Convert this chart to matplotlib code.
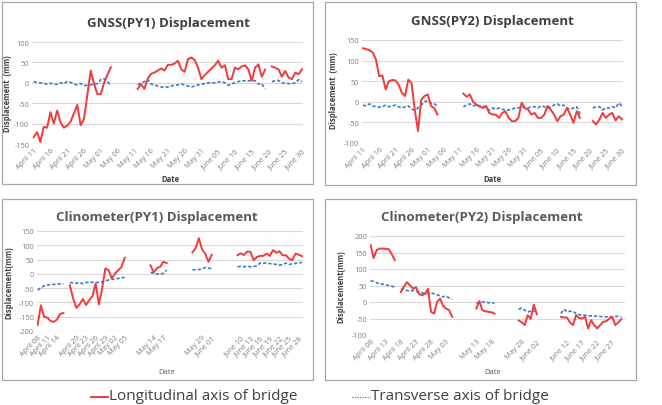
import numpy as np
import matplotlib
matplotlib.use("Agg")
import matplotlib.pyplot as plt
from matplotlib.patches import Rectangle
from matplotlib.lines import Line2D

plt.rcParams['font.family'] = ['Open Sans', 'DejaVu Sans']
plt.rcParams['axes.unicode_minus'] = False

W, H = 662, 406

# ---------------- GNSS PY1 (day 0 = April 11) ----------------
gnss_ticks = ["April 11", "April 16", "April 21", "April 26", "May 01", "May 06",
              "May 11", "May 16", "May 21", "May 26", "May 31", "June 05",
              "June 10", "June 15", "June 20", "June 25", "June 30"]
gnss_tick_days = list(range(0, 81, 5))

g1_starts = [0, 31, 71]
g1_long_1 = [-133, -121, -145, -108, -110, -72, -100, -68, -97, -110, -105, -95,
             -75, -54, -104, -88, -30, 30, -3, -28, -28, 0, 20, 38]
g1_tran_1 = [3, 1, 0, -2, -3, -1, -3, -4, 0, -2, 3, 1, -3, -5, -2, -7, -6, -5,
             -3, -2, 8, 10, 3, -7]
g1_long_2 = [-15, -3, -15, 10, 22, 25, 30, 35, 30, 44, 44, 47, 54, 33, 27, 58,
             62, 56, 37, 9, 19, 27, 35, 43, 54, 37, 43, 9, 9, 37, 33, 40, 43,
             33, 5, 37, 45, 15, 32]
g1_tran_2 = [-5, 0, 3, 8, -3, -5, -8, -10, -12, -10, -8, -6, -5, -3, -5, -8,
             -10, -8, -5, -3, -2, 0, 0, 0, 2, 3, 0, -6, -3, 0, 3, 5, 5, 5, 6, 5,
             -3, -2, -15]
g1_long_3 = [40, 37, 33, 15, 29, 13, 9, 25, 21, 33]
g1_tran_3 = [3, 5, 6, 0, -1, -2, -2, 0, 8, 3]

# ---------------- GNSS PY2 (day 0 = April 11) ----------------
g2_starts = [0, 31, 71]
g2_long_1 = [130, 128, 125, 120, 103, 62, 64, 30, 50, 53, 52, 42, 22, 14, 54,
             45, -19, -71, 5, 14, 18, -10, -15, -31]
g2_tran_1 = [-8, -10, -5, -10, -12, -13, -12, -8, -12, -10, -8, -12, -15, -12,
             -10, -18, -20, -15, -8, 0, 3, -3, -5, -10]
g2_long_2 = [20, 12, 18, 0, -7, -10, -15, -10, -27, -31, -31, -39, -27, -23,
             -39, -47, -47, -39, -2, -15, -19, -31, -27, -39, -39, -31, -10,
             -19, -31, -47, -35, -31, -15, -31, -51, -23, -39]
g2_tran_2 = [-12, -8, -5, -10, -8, -12, -10, -15, -20, -15, -18, -15, -18, -20,
             -20, -18, -15, -15, -12, -15, -15, -12, -12, -15, -10, -12, -15,
             -12, -8, -5, -10, -8, -15, -18, -15, -12, -30]
g2_long_3 = [-47, -55, -43, -27, -39, -31, -27, -45, -35, -43]
g2_tran_3 = [-15, -12, -12, -20, -15, -15, -12, -15, -3, -10]

# ---------------- Clinometer PY1 (day 0 = April 08) ----------------
c1_ticks = ["April 08", "April 11", "April 14", "April 20", "April 23",
            "April 26", "April 29", "May 02", "May 05", "May 14", "May 17",
            "May 29", "June 01", "June 10", "June 13", "June 16", "June 19",
            "June 22", "June 25", "June 28"]
c1_tick_days = [0, 3, 6, 12, 15, 18, 21, 24, 27, 36, 39, 51, 54, 63, 66, 69,
                72, 75, 78, 81]
c1_starts = [0, 10, 35, 48, 62]
c1_long_1 = [-179, -110, -150, -153, -165, -168, -160, -140, -137]
c1_tran_1 = [-57, -49, -42, -40, -37, -37, -35, -35, -35]
c1_long_2 = [-40, -86, -119, -107, -88, -109, -92, -78, -34, -107, -51, 19, 13,
             -16, 1, 13, 24, 56]
c1_tran_2 = [-30, -32, -33, -30, -35, -31, -28, -30, -30, -30, -28, -26, -21,
             -19, -19, -16, -14, -12]
c1_long_3 = [30, 5, 20, 25, 42, 38]
c1_tran_3 = [5, 2, 0, -2, 2, 13]
c1_long_4 = [75, 90, 125, 85, 70, 42, 67]
c1_tran_4 = [15, 14, 15, 18, 22, 20, 18]
c1_long_5 = [65, 72, 66, 78, 77, 48, 59, 63, 63, 71, 63, 83, 74, 79, 65, 65,
             53, 48, 71, 67, 62]
c1_tran_5 = [25, 26, 25, 26, 25, 26, 28, 38, 37, 38, 36, 35, 33, 31, 32, 38,
             33, 35, 37, 38, 40]

# ---------------- Clinometer PY2 (day 0 = April 08) ----------------
c2_ticks = ["April 08", "April 13", "April 18", "April 23", "April 28",
            "May 03", "May 13", "May 18", "May 28", "June 02", "June 12",
            "June 17", "June 22", "June 27"]
c2_tick_days = [0, 5, 10, 15, 20, 25, 35, 40, 50, 55, 65, 70, 75, 80]
c2_starts = [0, 10, 35, 49, 63]
c2_long_1 = [172, 133, 157, 162, 162, 161, 160, 145, 127]
c2_tran_1 = [65, 62, 58, 56, 54, 52, 50, 48, 45]
c2_long_2 = [30, 46, 60, 51, 40, 45, 25, 20, 25, 40, -30, -35, 0, 10, -12,
             -20, -25, -45]
c2_tran_2 = [38, 40, 35, 33, 35, 32, 28, 28, 26, 26, 28, 25, 22, 18, 16, 18,
             12, 10]
c2_long_3 = [-20, 3, -25, -28, -30, -31, -35]
c2_tran_3 = [-3, -2, 0, 0, -2, -3, -3]
c2_long_4 = [-56, -61, -70, -40, -51, -8, -37]
c2_tran_4 = [-22, -18, -25, -30, -28, -28, -25]
c2_long_5 = [-45, -47, -47, -62, -70, -40, -48, -50, -45, -80, -55, -70, -80,
             -70, -60, -58, -50, -45, -70, -62, -52]
c2_tran_5 = [-35, -22, -30, -28, -28, -35, -38, -40, -40, -42, -42, -43, -43,
             -44, -45, -45, -44, -45, -44, -43, -45]

RED = '#f23a3a'
BLUE = '#3a7cc4'
GRID = '#d9d9d9'
TICKC = '#7f7f7f'

fig = plt.figure(figsize=(W / 100, H / 100), dpi=100)


def px_axes(x0, y0, x1, y1):
    return fig.add_axes([x0 / W, 1 - y1 / H, (x1 - x0) / W, (y1 - y0) / H])


def box(x0, y0, x1, y1):
    fig.patches.append(Rectangle((x0 / W, 1 - y1 / H), (x1 - x0) / W, (y1 - y0) / H,
                                 transform=fig.transFigure, fill=False,
                                 ec='#a6a6a6', lw=0.9))


def ftext(x, y, s, **kw):
    fig.text(x / W, 1 - y / H, s, **kw)


def panel(rect, starts, longs, trans, ylim, yticks, xlim, tdays, tlabels):
    ax = px_axes(*rect)
    for s, lv, tv in zip(starts, longs, trans):
        xd = s + np.arange(len(lv))
        ax.plot(xd, tv, color=BLUE, lw=1.2, dashes=(2.0, 1.2))
        ax.plot(xd, lv, color=RED, lw=1.4)
    ax.set_ylim(*ylim)
    ax.set_yticks(yticks)
    ax.set_xlim(*xlim)
    ax.set_xticks(tdays)
    ax.set_xticklabels(tlabels, rotation=45, ha='right', rotation_mode='anchor')
    ax.grid(axis='y', color=GRID, lw=0.8)
    ax.set_axisbelow(True)
    for sp in ax.spines.values():
        sp.set_visible(False)
    ax.tick_params(length=0, labelsize=5.3, colors=TICKC, pad=2)
    ax.tick_params(axis='x', pad=2)
    return ax


# boxes
box(2, 3, 313, 185)
box(325, 3, 636, 186)
box(2, 200, 313, 381)
box(325, 200, 636, 381)

panel((32, 43, 303, 145), g1_starts, [g1_long_1, g1_long_2, g1_long_3],
      [g1_tran_1, g1_tran_2, g1_tran_3], (-150, 100), range(-150, 101, 50),
      (-0.5, 80.3), gnss_tick_days, gnss_ticks)
panel((362, 41, 623, 144), g2_starts, [g2_long_1, g2_long_2, g2_long_3],
      [g2_tran_1, g2_tran_2, g2_tran_3], (-100, 150), range(-100, 151, 50),
      (-0.3, 80.3), gnss_tick_days, gnss_ticks)
panel((37, 232, 303, 332), c1_starts,
      [c1_long_1, c1_long_2, c1_long_3, c1_long_4, c1_long_5],
      [c1_tran_1, c1_tran_2, c1_tran_3, c1_tran_4, c1_tran_5],
      (-200, 150), range(-200, 151, 50), (-0.2, 82.3), c1_tick_days, c1_ticks)
panel((370, 237, 625, 336), c2_starts,
      [c2_long_1, c2_long_2, c2_long_3, c2_long_4, c2_long_5],
      [c2_tran_1, c2_tran_2, c2_tran_3, c2_tran_4, c2_tran_5],
      (-100, 200), range(-100, 201, 50), (-0.2, 84.2), c2_tick_days, c2_ticks)

# titles
ftext(168, 24, "GNSS(PY1) Displacement", ha='center', va='center',
      fontsize=9.5, fontweight='bold', color='#404040')
ftext(492, 22, "GNSS(PY2) Displacement", ha='center', va='center',
      fontsize=9.5, fontweight='bold', color='#404040')
ftext(157, 218, "Clinometer(PY1) Displacement", ha='center', va='center',
      fontsize=9.5, fontweight='bold', color='#595959')
ftext(482, 218, "Clinometer(PY2) Displacement", ha='center', va='center',
      fontsize=9.5, fontweight='bold', color='#595959')

# axis labels
ftext(170, 179, "Date", ha='center', va='center', fontsize=5.5,
      fontweight='bold', color='#404040')
ftext(492, 179, "Date", ha='center', va='center', fontsize=5.5,
      fontweight='bold', color='#404040')
ftext(167, 373, "Date", ha='center', va='center', fontsize=5.5, color='#595959')
ftext(493, 373, "Date", ha='center', va='center', fontsize=5.5, color='#595959')
ftext(8, 94, "Displacement  (mm)", ha='center', va='center', rotation=90,
      fontsize=5.5, fontweight='bold', color='#404040')
ftext(334, 91, "Displacement  (mm)", ha='center', va='center', rotation=90,
      fontsize=5.5, fontweight='bold', color='#404040')
ftext(9, 283, "Displacement(mm)", ha='center', va='center', rotation=90,
      fontsize=5.5, fontweight='bold', color='#404040')
ftext(341, 287, "Displacement(mm)", ha='center', va='center', rotation=90,
      fontsize=5.5, fontweight='bold', color='#404040')

# legend
fig.lines.append(Line2D([91 / W, 108 / W], [1 - 398 / H, 1 - 398 / H],
                        transform=fig.transFigure, color=RED, lw=1.4))
ftext(109, 397, "Longitudinal axis of bridge", ha='left', va='center',
      fontsize=11, color='#404040')
fig.lines.append(Line2D([352 / W, 370 / W], [1 - 398 / H, 1 - 398 / H],
                        transform=fig.transFigure, color=BLUE, lw=0.9,
                        dashes=(1, 1)))
ftext(371, 397, "Transverse axis of bridge", ha='left', va='center',
      fontsize=11, color='#404040')

fig.savefig("out.png", dpi=100)
